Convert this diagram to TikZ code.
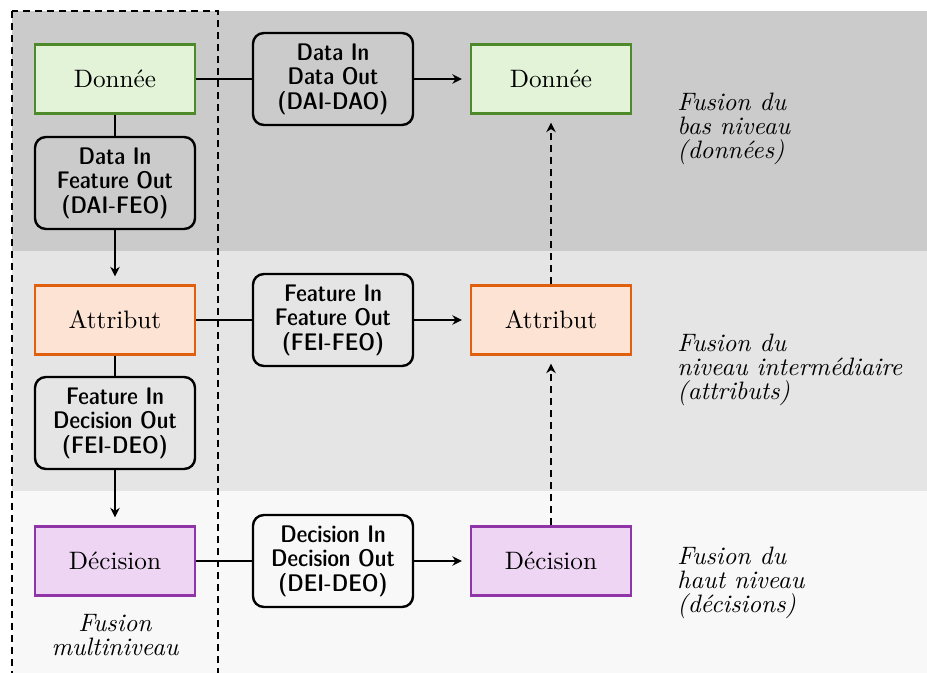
\documentclass[tikz,border=0pt]{standalone}
\usepackage{fontspec}
\newfontfamily\dcfont{lmsansdemicond10-regular}[Extension=.otf]
\usetikzlibrary{arrows.meta}
\definecolor{bandA}{HTML}{CBCBCB}
\definecolor{bandB}{HTML}{E5E5E5}
\definecolor{bandC}{HTML}{F8F8F8}
\definecolor{dataD}{HTML}{4E8A2A}
\definecolor{dataF}{HTML}{E2F3D8}
\definecolor{featD}{HTML}{E0600E}
\definecolor{featF}{HTML}{FDE3D3}
\definecolor{decD}{HTML}{8F35A8}
\definecolor{decF}{HTML}{EED5F3}
\tikzset{
  levelbox/.style={draw, line width=0.95pt, minimum width=66.7pt, minimum height=28.8pt,
    inner sep=0pt, font=\fontsize{10.5}{12}\selectfont},
  databox/.style={levelbox, draw=dataD, fill=dataF},
  featbox/.style={levelbox, draw=featD, fill=featF},
  decbox/.style={levelbox, draw=decD, fill=decF},
  procbox/.style={draw=black, line width=1pt, rounded corners=4.5pt, minimum width=66.7pt,
    minimum height=38.3pt, inner sep=0pt, align=center,
    font=\dcfont\fontsize{10}{10.2}\selectfont},
  lbl/.style={align=left, font=\itshape\fontsize{10.5}{10}\selectfont, inner sep=0pt, anchor=west},
  conn/.style={line width=0.6pt},
  arr/.style={line width=0.6pt, -{Stealth[length=4pt,width=4pt]}, shorten >=3.3pt},
  darr/.style={arr, dash pattern=on 3pt off 2pt},
}
\begin{document}
\begin{tikzpicture}[x=0.4167pt,y=-0.4167pt]
\useasboundingbox (0,0) rectangle (927,673);
\fill[bandA] (12,11) rectangle (927,251);
\fill[bandB] (12,251) rectangle (927,491);
\fill[bandC] (12,491) rectangle (927,673);
\draw[line width=0.6pt, dash pattern=on 3pt off 2pt] (12,11) rectangle (218,690);

% left column
\node[databox] (d1) at (115,79) {Donnée};
\node[procbox] (p1) at (115,183) {Data In\\Feature Out\\(DAI-FEO)};
\node[featbox] (f1) at (115,320) {Attribut};
\node[procbox] (p2) at (115,423) {Feature In\\Decision Out\\(FEI-DEO)};
\node[decbox] (c1) at (115,561) {Décision};
\node[align=center, font=\itshape\fontsize{10.5}{10}\selectfont, inner sep=0pt] (ml) at (115,635) {Fusion\\multiniveau};

% middle column
\node[procbox] (q1) at (333,79) {Data In\\Data Out\\(DAI-DAO)};
\node[procbox] (q2) at (333,320) {Feature In\\Feature Out\\(FEI-FEO)};
\node[procbox] (q3) at (333,561) {Decision In\\Decision Out\\(DEI-DEO)};

% right column
\node[databox] (d2) at (551,79) {Donnée};
\node[featbox] (f2) at (551,320) {Attribut};
\node[decbox] (c2) at (551,561) {Décision};

% labels
\node[lbl] (l1) at (677,129) {Fusion du\\bas niveau\\(données)};
\node[lbl] (l2) at (677,370) {Fusion du\\niveau intermédiaire\\(attributs)};
\node[lbl] (l3) at (677,583) {Fusion du\\haut niveau\\(décisions)};

% connectors
\draw[conn] (d1) -- (p1);
\draw[arr] (p1) -- (f1);
\draw[conn] (f1) -- (p2);
\draw[arr] (p2) -- (c1);
\draw[conn] (d1) -- (q1);
\draw[arr] (q1) -- (d2);
\draw[conn] (f1) -- (q2);
\draw[arr] (q2) -- (f2);
\draw[conn] (c1) -- (q3);
\draw[arr] (q3) -- (c2);
\draw[darr] (c2) -- (f2);
\draw[darr] (f2) -- (d2);
\end{tikzpicture}
\end{document}
